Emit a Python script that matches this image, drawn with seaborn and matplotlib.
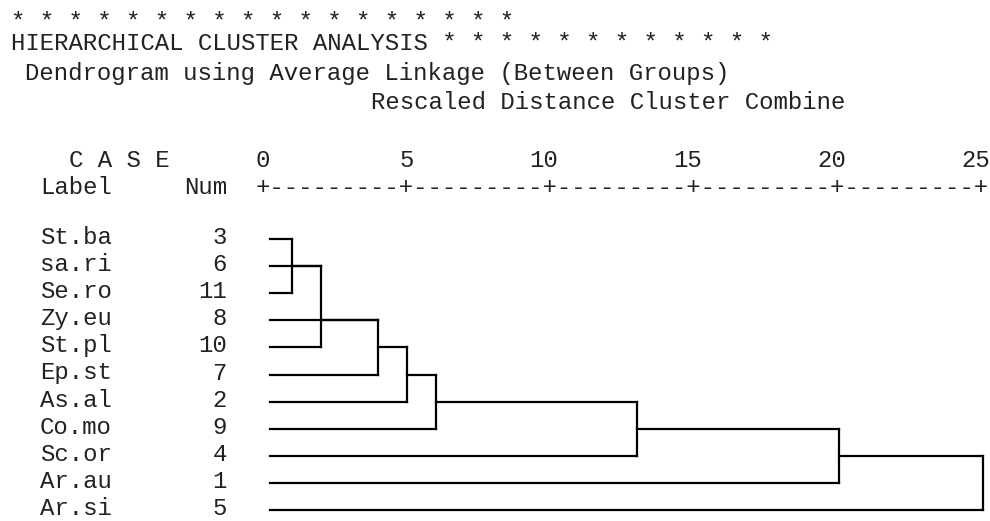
import matplotlib
matplotlib.use("Agg")
import matplotlib.pyplot as plt
import seaborn as sns
import pandas as pd
from matplotlib.transforms import blended_transform_factory, ScaledTranslation

sns.set_theme(style="white")
plt.rcParams['font.family'] = ['Liberation Mono', 'DejaVu Sans Mono']

# ---------------- data ----------------
labels = ["St.ba", "sa.ri", "Se.ro", "Zy.eu", "St.pl", "Ep.st",
          "As.al", "Co.mo", "Sc.or", "Ar.au", "Ar.si"]
case_nums = [3, 6, 11, 8, 10, 7, 2, 9, 4, 1, 5]
# rescaled distance at which each leaf's line ends (first join)
leaf_end = [1, 2, 1, 4, 2, 4, 5, 6, 13, 20, 25]
# successive cluster combinations (rescaled distance, rows spanned)
merge_dist = [1, 2, 4, 5, 6, 13, 20, 25]
merge_top = [0, 1, 3, 4, 5, 6, 7, 8]
merge_bottom = [2, 4, 5, 6, 7, 8, 9, 10]
merge_out_row = [1, 3, 4, 5, 6, 7, 8]
ticks = [0, 5, 10, 15, 20, 25]

title_stars = 18
title_text = "HIERARCHICAL CLUSTER ANALYSIS"
title_stars2 = 12
subtitle = "Dendrogram using Average Linkage (Between Groups)"
axis_title = "Rescaled Distance Cluster Combine"

# ---------------- layout ----------------
W, H, DPI = 990, 521, 100
CW = 14.4          # character cell width in px
X0 = 11            # left edge of column 0
FS = 24 * 72 / DPI # 24 px font
TXT = "#222222"
LEAF_START = 0.25

def col(c):
    return X0 + CW * c

fig = plt.figure(figsize=(W / DPI, H / DPI), dpi=DPI)
fig.patch.set_facecolor("white")
bg = fig.add_axes([0, 0, 1, 1])
bg.set_xlim(0, W)
bg.set_ylim(H, 0)
bg.axis("off")

row_top_px, row_bot_px = 239, 510
x_left_px, x_right_px = 263, 983
ax = fig.add_axes([x_left_px / W, (H - row_bot_px) / H,
                   (x_right_px - x_left_px) / W, (row_bot_px - row_top_px) / H])

# ---------------- dendrogram segments ----------------
segs = []
sid = 0
for r, e in enumerate(leaf_end):
    segs += [(sid, LEAF_START, r), (sid, e, r)]
    sid += 1
for d, t, b in zip(merge_dist, merge_top, merge_bottom):
    segs += [(sid, d, t), (sid, d, b)]
    sid += 1
for i, r in enumerate(merge_out_row):
    segs += [(sid, merge_dist[i], r), (sid, merge_dist[i + 1], r)]
    sid += 1
df = pd.DataFrame(segs, columns=["seg", "x", "y"])
sns.lineplot(data=df, x="x", y="y", units="seg", estimator=None, sort=False,
             color="black", linewidth=1.6, ax=ax, legend=False)
for ln in ax.lines:
    ln.set_clip_on(False)
    ln.set_solid_capstyle("projecting")
ax.set_xlim(0, 25)
ax.set_ylim(len(labels) - 1, 0)
ax.axis("off")

# ---------------- text ----------------
def put(c, y, s, **kw):
    bg.text(col(c), y, s, ha="left", va="baseline", fontsize=FS, color=TXT, **kw)

put(0, 29, " ".join(["*"] * title_stars))
put(0, 50, title_text + " " + " ".join(["*"] * title_stars2))
put(1, 80, subtitle)
put(25, 109, axis_title)
put(4, 167, "C A S E")
put(2, 194, "Label")
put(12, 194, "Num")

# axis ruler built from the ticks
ruler = "+" + "".join(["-" * (2 * (b - a) - 1) + "+" for a, b in zip(ticks[:-1], ticks[1:])])
tr_left = blended_transform_factory(ax.transData, bg.transData) + \
    ScaledTranslation(-CW / 2 / DPI, 0, fig.dpi_scale_trans)
bg.text(0, 194, ruler, transform=tr_left, ha="left", va="baseline",
        fontsize=FS, color=TXT)
tr_right = blended_transform_factory(ax.transData, bg.transData) + \
    ScaledTranslation(CW / 2 / DPI, 0, fig.dpi_scale_trans)
for t in ticks:
    bg.text(t, 167, str(t), transform=tr_right, ha="right", va="baseline",
            fontsize=FS, color=TXT)

row_step = (row_bot_px - row_top_px) / (len(labels) - 1)
for i, (lab, n) in enumerate(zip(labels, case_nums)):
    yb = row_top_px + i * row_step + 5
    put(2, yb, lab)
    bg.text(col(15), yb, str(n), ha="right", va="baseline", fontsize=FS, color=TXT)

fig.savefig("out.png", dpi=DPI, facecolor="white")
